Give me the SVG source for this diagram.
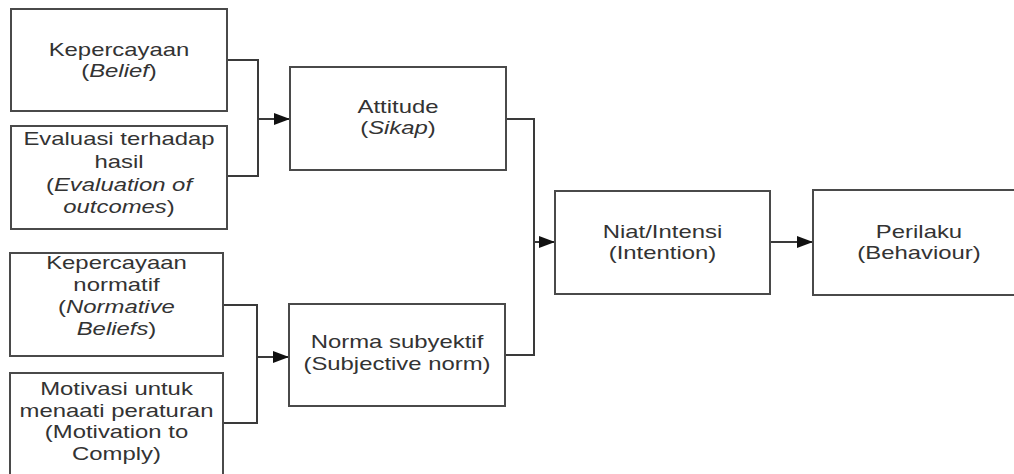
<svg xmlns="http://www.w3.org/2000/svg" width="1014" height="474" viewBox="0 0 1014 474">
  <style>
    .box { fill: #ffffff; stroke: #4a4a4a; stroke-width: 2; }
    .conn { fill: none; stroke: #3a3a3a; stroke-width: 2; }
    .lbl { font-family: "Liberation Sans", Arial, sans-serif; font-size: 17.7px; fill: #333333; text-anchor: middle; }
    .it { font-style: italic; }
  </style>
  <defs>
    <marker id="arrow" viewBox="0 0 16 12" refX="16" refY="6" markerWidth="16" markerHeight="12" markerUnits="userSpaceOnUse" orient="auto">
      <path d="M0,0 L16,6 L0,12 z" fill="#111111"/>
    </marker>
  </defs>
  <rect width="1014" height="474" fill="#ffffff"/>

  <g id="connectors">
    <path class="conn" d="M227,60 H258 V176 H227"/>
    <path class="conn" d="M258,119 H290" marker-end="url(#arrow)"/>
    <path class="conn" d="M223,305 H257 V423 H223"/>
    <path class="conn" d="M257,357 H289" marker-end="url(#arrow)"/>
    <path class="conn" d="M506,119 H534 V355 H505"/>
    <path class="conn" d="M534,242 H555" marker-end="url(#arrow)"/>
    <path class="conn" d="M770,242 H813" marker-end="url(#arrow)"/>
  </g>

  <g id="belief">
    <rect class="box" x="11" y="9" width="216" height="102"/>
    <g transform="translate(119,0) scale(1.35,1)">
      <text class="lbl" x="0" y="56">Kepercayaan</text>
      <text class="lbl" x="0" y="77.5">(<tspan class="it">Belief</tspan>)</text>
    </g>
  </g>

  <g id="evaluation">
    <rect class="box" x="11" y="126" width="216" height="103"/>
    <g transform="translate(119,0) scale(1.35,1)">
      <text class="lbl" x="0" y="145">Evaluasi terhadap</text>
      <text class="lbl" x="0" y="168">hasil</text>
      <text class="lbl" x="0" y="191">(<tspan class="it">Evaluation of</tspan></text>
      <text class="lbl" x="0" y="213"><tspan class="it">outcomes</tspan>)</text>
    </g>
  </g>

  <g id="normative-beliefs">
    <rect class="box" x="10" y="253" width="213" height="103"/>
    <g transform="translate(116.5,0) scale(1.35,1)">
      <text class="lbl" x="0" y="269">Kepercayaan</text>
      <text class="lbl" x="0" y="291">normatif</text>
      <text class="lbl" x="0" y="313">(<tspan class="it">Normative</tspan></text>
      <text class="lbl" x="0" y="335"><tspan class="it">Beliefs</tspan>)</text>
    </g>
  </g>

  <g id="motivation">
    <rect class="box" x="10" y="373" width="213" height="112"/>
    <g transform="translate(116.5,0) scale(1.35,1)">
      <text class="lbl" x="0" y="395">Motivasi untuk</text>
      <text class="lbl" x="0" y="417">menaati peraturan</text>
      <text class="lbl" x="0" y="438.5">(Motivation to</text>
      <text class="lbl" x="0" y="460">Comply)</text>
    </g>
  </g>

  <g id="attitude">
    <rect class="box" x="290" y="67" width="216" height="103"/>
    <g transform="translate(398,0) scale(1.35,1)">
      <text class="lbl" x="0" y="113">Attitude</text>
      <text class="lbl" x="0" y="134">(<tspan class="it">Sikap</tspan>)</text>
    </g>
  </g>

  <g id="subjective-norm">
    <rect class="box" x="289" y="304" width="216" height="102"/>
    <g transform="translate(397,0) scale(1.35,1)">
      <text class="lbl" x="0" y="348">Norma subyektif</text>
      <text class="lbl" x="0" y="370">(Subjective norm)</text>
    </g>
  </g>

  <g id="intention">
    <rect class="box" x="555" y="191" width="215" height="103"/>
    <g transform="translate(662.5,0) scale(1.35,1)">
      <text class="lbl" x="0" y="238">Niat/Intensi</text>
      <text class="lbl" x="0" y="259.5">(Intention)</text>
    </g>
  </g>

  <g id="behaviour">
    <rect class="box" x="813" y="190" width="215" height="105"/>
    <g transform="translate(919,0) scale(1.35,1)">
      <text class="lbl" x="0" y="238">Perilaku</text>
      <text class="lbl" x="0" y="259.5">(Behaviour)</text>
    </g>
  </g>
</svg>
